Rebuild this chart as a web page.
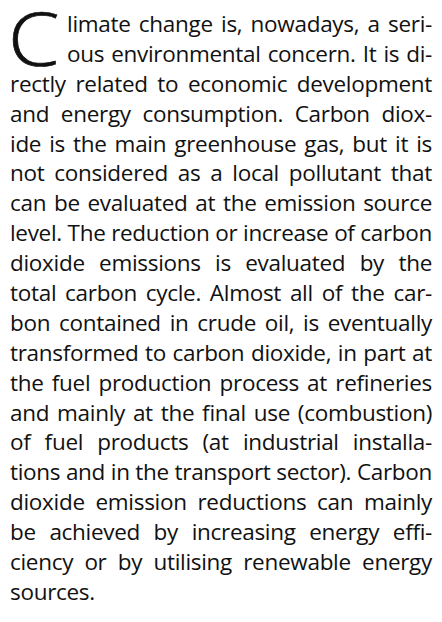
<!DOCTYPE html>
<html>
<head>
<meta charset="utf-8">
<script src="https://cdn.jsdelivr.net/npm/chart.js"></script>
<style>
  html, body { margin: 0; padding: 0; background: #fff; }
  body { width: 442px; height: 622px; overflow: hidden; position: relative; }
  #text {
    position: absolute; left: 10px; top: 9px; width: 422px;
    font-family: "Open Sans", "Noto Sans", sans-serif;
    font-size: 22.5px; color: #111;
  }
  .line {
    height: 29.9px; line-height: 29.9px; white-space: nowrap;
    text-align: justify; text-align-last: justify;
  }
  .line.last { text-align-last: left; }
  .line.indent { margin-left: 57px; }
  #cap {
    position: absolute; left: 8px; top: 1px; height: 66px;
    font-family: "Open Sans", sans-serif; font-size: 74px; line-height: 74px;
    font-weight: 300; color: #111; -webkit-text-stroke: 0.7px #111;
    transform: scaleX(1.12); transform-origin: left top;
  }
  .probe { position: absolute; visibility: hidden; white-space: nowrap; }
</style>
</head>
<body>
<div id="cap">C</div>
<div id="text"></div>
<script>
  // drop cap and the text lines as broken in the picture
  const dropCap = 'C';
  const lines = [
    'limate change is, nowadays, a seri-',
    'ous environmental concern. It is di-',
    'rectly related to economic development',
    'and energy consumption. Carbon diox-',
    'ide is the main greenhouse gas, but it is',
    'not considered as a local pollutant that',
    'can be evaluated at the emission source',
    'level. The reduction or increase of carbon',
    'dioxide emissions is evaluated by the',
    'total carbon cycle. Almost all of the car-',
    'bon contained in crude oil, is eventually',
    'transformed to carbon dioxide, in part at',
    'the fuel production process at refineries',
    'and mainly at the final use (combustion)',
    'of fuel products (at industrial installa-',
    'tions and in the transport sector). Carbon',
    'dioxide emission reductions can mainly',
    'be achieved by increasing energy effi-',
    'ciency or by utilising renewable energy',
    'sources.'
  ];

  document.getElementById('cap').textContent = dropCap;
  const box = document.getElementById('text');
  lines.forEach(function(t, i) {
    const d = document.createElement('div');
    d.className = 'line';
    if (i < 2) d.className += ' indent';
    if (i === lines.length - 1) d.className += ' last';
    d.textContent = t;
    box.appendChild(d);

    // squeeze letters a little when a line is wider than its box
    const avail = i < 2 ? 422 - 57 : 422;
    const probe = document.createElement('span');
    probe.className = 'probe';
    probe.textContent = t;
    box.appendChild(probe);
    const w = probe.getBoundingClientRect().width;
    box.removeChild(probe);
    let ls = -0.3;
    const need = (avail - 1 - w) / t.length;
    if (need < ls) ls = need;
    d.style.letterSpacing = ls + 'px';
  });
</script>
</body>
</html>
